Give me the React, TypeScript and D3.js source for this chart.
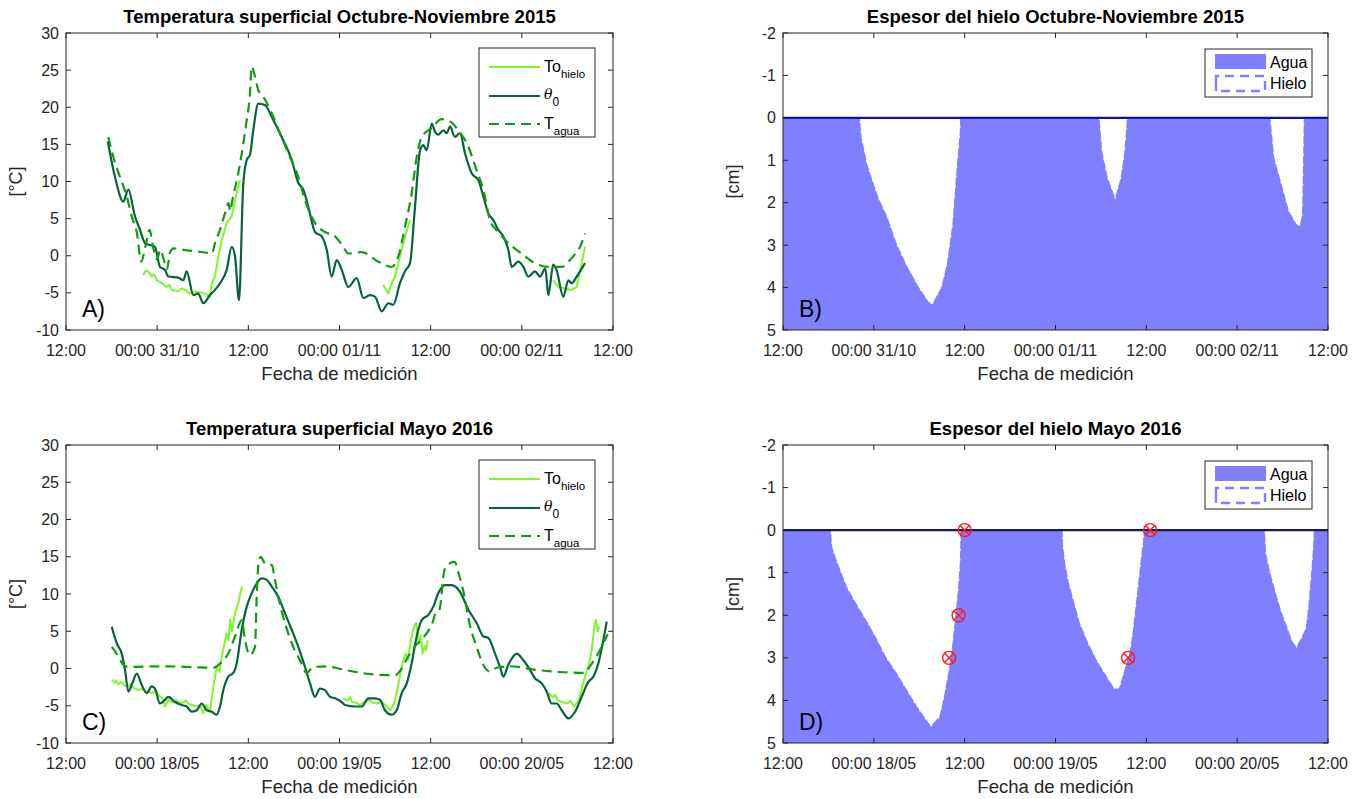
import React from 'react';
import * as d3 from 'd3';

type Pt = [number, number];

// Hours since 12:00 of the first day; every panel spans three days.
const hourDomain: Pt = [0, 72];
const tickHours = [0, 12, 24, 36, 48, 60, 72];
const octTickLabels = ['12:00', '00:00 31/10', '12:00', '00:00 01/11', '12:00', '00:00 02/11', '12:00'];
const mayTickLabels = ['12:00', '00:00 18/05', '12:00', '00:00 19/05', '12:00', '00:00 20/05', '12:00'];
const tempTicks = [-10, -5, 0, 5, 10, 15, 20, 25, 30];
const iceTicks = [-2, -1, 0, 1, 2, 3, 4, 5];

// --- Octubre-Noviembre 2015: surface temperature [°C] ---
const octTheta0: Pt[] = [
  [5.5, 15.4], [6.45, 10.6], [7.54, 7.3], [8.2, 8.9], [9.08, 5.3], [9.74, 3.5], [10.4, 1.7], [11.7, 1.2],
  [12.37, -1.5], [13.03, -1.9], [13.47, -2.8], [14.78, -2.95], [15.44, -3.3], [15.89, -2.1], [16.76, -5.3],
  [17.41, -5.1], [18.07, -6.4], [18.95, -5.3], [19.61, -4.6], [20.27, -3.7], [21.15, -1.9], [21.81, 1.2],
  [22.25, -0.1], [22.77, -6.0], [23.34, 9.8], [23.79, 12.9], [24.22, 13.6], [24.65, 16.9], [25.31, 20.5],
  [26.19, 20.3], [27.08, 18.7], [28.39, 16.0], [29.71, 12.9], [30.58, 9.8], [31.24, 8.9], [31.89, 6.6],
  [32.78, 3.2], [33.66, 2.6], [34.32, 0.8], [34.97, -2.8], [35.63, -0.6], [36.29, -1.9], [37.16, -4.2],
  [38.27, -3.0], [39.13, -5.7], [40.02, -5.3], [40.67, -5.5], [41.56, -7.5], [42.42, -6.4], [43.08, -6.6],
  [43.96, -3.7], [44.62, -2.1], [45.28, -1.0], [45.94, 6.6], [46.6, 14.2], [47.03, 14.9], [47.48, 14.2],
  [48.14, 17.8], [48.57, 16.7], [49.0, 16.3], [49.66, 16.9], [50.11, 16.5], [50.55, 17.4], [51.2, 16.0],
  [51.86, 16.5], [52.52, 13.8], [53.4, 11.1], [54.27, 10.2], [54.93, 8.0], [55.59, 5.7], [56.25, 4.8],
  [56.9, 3.5], [57.56, 2.6], [58.22, 0.8], [58.67, -1.5], [59.54, -0.8], [60.2, -1.5], [60.85, -2.8],
  [61.73, -2.1], [62.39, -2.8], [63.1, -1.7], [63.48, -5.3], [64.14, -1.2], [64.59, -2.0], [65.46, -5.5],
  [66.12, -3.3], [66.56, -3.7], [67.22, -2.8], [68.32, -1.0],
];
const octTagua: Pt[] = [
  [5.57, 16.0], [6.23, 13.3], [7.11, 10.6], [7.99, 8.0], [8.65, 5.3], [9.31, 3.2], [9.9, -0.8], [10.5, 1.5],
  [11.0, 3.5], [11.5, 1.0], [12.0, -0.5], [12.4, 0.8], [13.0, -1.0], [13.3, -1.8], [13.7, 0.5], [14.2, 1.0],
  [15.5, 0.8], [17.0, 0.6], [18.5, 0.4], [19.2, 0.3], [19.61, 1.7], [20.27, 3.5], [20.93, 5.7], [21.4, 7.1],
  [21.6, 6.0], [21.9, 7.5], [22.84, 12.0], [23.28, 14.7], [23.72, 17.8], [24.22, 21.9], [24.44, 25.5],
  [24.88, 24.1], [25.31, 22.3], [25.97, 21.4], [27.08, 19.2], [28.17, 16.5], [29.26, 13.8], [30.58, 10.6],
  [31.46, 7.5], [32.78, 4.4], [34.09, 3.2], [35.41, 2.6], [36.5, 1.2], [37.16, 0.3], [38.92, 0.5],
  [41.11, -0.8], [42.87, -1.5], [43.74, -0.1], [44.62, 3.9], [45.5, 8.4], [46.16, 13.3], [46.82, 16.0],
  [48.14, 17.2], [49.45, 18.4], [50.55, 18.1], [51.64, 16.9], [52.96, 14.7], [54.05, 11.5], [54.93, 8.9],
  [55.81, 4.8], [56.9, 3.2], [58.22, 1.7], [59.98, 0.3], [61.73, -1.0], [63.48, -1.5], [65.24, -1.5],
  [66.56, -0.3], [67.66, 1.2], [68.32, 3.0],
];
const octToHielo: Pt[][] = [
  [[10.17, -2.6], [10.5, -2.0], [10.83, -2.1], [11.28, -2.8], [11.6, -2.5], [11.94, -3.3], [12.6, -3.7],
   [13.25, -4.2], [13.6, -3.9], [13.91, -4.6], [14.78, -4.8], [15.2, -4.4], [15.66, -4.6], [16.3, -5.1],
   [16.98, -4.8], [17.6, -4.9], [18.3, -5.1], [18.95, -5.5], [19.18, -3.7], [19.61, -2.8], [20.05, -0.1],
   [20.5, 2.1], [21.15, 4.4], [21.81, 5.3], [22.25, 7.5], [22.9, 10.2]],
  [[41.77, -3.9], [42.42, -5.1], [42.87, -3.7], [43.31, -2.8], [43.96, -0.1], [44.62, 2.6], [45.28, 4.8]],
  [[64.14, -3.3], [64.8, -4.2], [65.68, -4.4], [66.56, -4.6], [67.22, -4.2], [67.88, -1.0], [68.32, 1.2]],
];

// --- Mayo 2016: surface temperature [°C] ---
const mayTheta0: Pt[] = [
  [6.02, 5.6], [6.67, 3.4], [7.33, 2.0], [7.77, -0.2], [8.2, -3.1], [8.73, -2.0], [9.31, -0.7], [9.96, -2.2],
  [10.62, -3.3], [11.28, -2.4], [11.72, -2.7], [12.37, -4.7], [13.03, -4.2], [13.47, -3.8], [14.35, -4.5],
  [15.23, -4.9], [15.89, -5.1], [16.55, -5.8], [17.2, -5.6], [17.86, -4.7], [18.52, -5.6], [19.18, -5.8],
  [19.84, -6.2], [20.27, -5.1], [20.71, -2.9], [21.36, -1.1], [22.02, -0.6], [22.47, 0.7], [23.13, 5.2],
  [23.79, 8.3], [24.44, 10.1], [25.1, 11.4], [25.76, 12.1], [26.42, 11.9], [27.08, 11.0], [27.95, 9.6],
  [28.83, 7.4], [29.71, 5.2], [30.58, 2.9], [31.46, 0.2], [32.12, -2.0], [32.78, -3.8], [33.43, -2.7],
  [34.09, -2.9], [34.75, -3.8], [35.41, -4.0], [36.29, -4.5], [36.72, -4.9], [38.04, -5.1], [38.92, -5.1],
  [39.79, -4.0], [40.67, -4.0], [41.33, -4.2], [41.99, -5.6], [42.87, -6.2], [43.53, -5.6], [44.19, -3.3],
  [44.85, -2.0], [45.5, 0.7], [46.16, 4.3], [46.82, 6.5], [47.69, 7.2], [48.35, 8.3], [49.0, 10.1],
  [49.89, 11.2], [50.77, 11.2], [51.86, 10.3], [52.96, 7.9], [54.06, 6.1], [54.93, 4.3], [55.59, 4.1],
  [56.47, 2.0], [57.13, 0.2], [57.56, -1.1], [58.22, 0.5], [59.33, 2.0], [60.2, 1.1], [60.85, 0.2],
  [61.73, -1.3], [62.62, -2.0], [63.27, -3.1], [63.93, -4.7], [64.59, -4.7], [65.25, -5.6], [66.12, -6.7],
  [67.0, -5.8], [67.88, -3.8], [68.75, -1.8], [69.41, -1.1], [70.07, 0.7], [71.17, 6.3],
];
const mayTagua: Pt[] = [
  [6.02, 2.9], [6.67, 2.0], [7.54, 0.5], [8.2, 0.2], [12.6, 0.3], [16.55, 0.2], [19.4, 0.1], [20.5, 0.9],
  [21.36, 2.0], [22.25, 4.3], [23.13, 6.5], [23.56, 3.8], [24.22, 1.8], [24.88, 2.9], [25.1, 9.6],
  [25.31, 13.7], [25.63, 15.0], [26.19, 14.1], [27.08, 13.9], [27.51, 11.9], [27.95, 9.6], [28.83, 6.1],
  [29.71, 3.4], [30.8, 1.1], [31.68, -0.6], [32.55, 0.2], [34.53, 0.3], [35.41, 0.1], [38.92, -0.6],
  [42.42, -0.9], [43.3, -0.9], [44.19, 0.0], [44.93, 1.4], [46.04, 3.1], [46.73, 3.8], [47.39, 4.6],
  [48.26, 6.2], [48.7, 7.6], [49.15, 7.9], [49.81, 13.2], [50.48, 14.1], [51.14, 14.3], [51.81, 12.3],
  [52.47, 9.6], [53.14, 5.9], [54.02, 3.0], [54.92, 0.5], [55.8, -0.4], [56.68, 0.1], [58.45, 0.3],
  [62.0, -0.2], [65.55, -0.5], [68.19, -0.6], [69.1, 0.5], [69.98, 1.9], [70.87, 3.7], [71.3, 4.6],
];
const mayToHielo: Pt[][] = [
  [[6.02, -1.5], [6.4, -1.9], [6.6, -1.6], [6.88, -2.1], [7.3, -1.8], [7.7, -2.3], [8.2, -2.4], [8.5, -2.1],
   [8.9, -2.6], [9.52, -2.9], [10.1, -2.7], [10.5, -3.2], [10.83, -3.1], [11.5, -3.3], [11.8, -2.9],
   [12.15, -3.6], [12.77, -4.0], [13.03, -5.1], [13.47, -4.2], [14.1, -4.6], [14.5, -4.2], [14.78, -4.5],
   [15.4, -4.6], [15.8, -4.3], [16.1, -4.7], [16.6, -4.9], [17.2, -5.1], [17.7, -5.0], [18.07, -6.0],
   [18.43, -4.9], [18.95, -5.8], [19.4, -2.4], [19.84, 0.2], [20.2, -0.5], [20.5, 1.6], [21.15, 4.7],
   [21.4, 3.8], [21.59, 6.5], [21.85, 5.0], [22.25, 7.4], [22.68, 8.8], [23.13, 11.0]],
  [[36.51, -4.0], [37.1, -4.3], [37.4, -3.8], [37.62, -4.5], [38.2, -4.6], [38.7, -4.9], [39.3, -4.5],
   [39.84, -4.2], [40.4, -4.6], [40.94, -4.7], [41.5, -4.5], [42.06, -4.9], [42.71, -5.6], [43.17, -4.7],
   [43.61, -2.9], [44.28, 0.7], [44.71, 2.0], [45.0, 1.2], [45.39, 3.8], [45.81, 5.6], [46.07, 6.1],
   [46.3, 4.2], [46.47, 3.4], [46.7, 4.4], [46.93, 2.0], [47.2, 3.0], [47.39, 2.5], [47.6, 3.8]],
  [[63.55, -3.3], [64.1, -3.9], [64.4, -3.5], [64.66, -4.2], [65.3, -4.5], [65.99, -4.7], [66.4, -4.3],
   [66.87, -5.1], [67.53, -4.2], [68.19, -1.5], [68.87, 0.7], [69.2, 2.5], [69.54, 5.6], [69.76, 6.5],
   [70.0, 5.0], [70.2, 5.6]],
];

// --- Ice thickness [cm] ---
const octIce: Pt[] = [
  [0, 0], [10.16, 0], [10.4, 0.47], [11.14, 1.1], [12.6, 1.88], [13.82, 2.35], [15.05, 2.98], [16.5, 3.53],
  [17.98, 4.0], [19.19, 4.32], [19.68, 4.4], [20.9, 4.0], [21.64, 3.45], [22.38, 2.5], [22.87, 1.33],
  [23.36, 0.31], [23.4, 0], [41.82, 0], [42.17, 0.79], [42.9, 1.41], [43.88, 1.88], [44.61, 1.41],
  [45.1, 0.79], [45.44, 0], [64.4, 0], [64.9, 0.94], [65.88, 1.57], [66.86, 2.2], [67.83, 2.5],
  [68.23, 2.55], [68.56, 2.3], [68.71, 0.94], [68.8, 0], [72, 0],
];
const mayIce: Pt[] = [
  [0, 0], [6.34, 0], [6.49, 0.39], [7.23, 0.78], [8.44, 1.33], [9.67, 1.72], [11.14, 2.15], [12.35, 2.54],
  [13.58, 2.97], [15.05, 3.36], [16.51, 3.79], [17.73, 4.15], [18.96, 4.46], [19.54, 4.6], [20.66, 4.38],
  [21.26, 3.91], [21.89, 3.29], [22.38, 2.66], [22.76, 2.03], [23.1, 1.41], [23.36, 0.78], [23.45, 0],
  [36.94, 0], [37.0, 0.35], [37.28, 0.78], [37.77, 1.25], [38.51, 1.72], [39.23, 2.19], [40.36, 2.66],
  [41.44, 3.05], [42.91, 3.48], [43.78, 3.72], [44.37, 3.72], [45.1, 3.29], [45.84, 2.82], [46.22, 2.35],
  [46.82, 1.41], [47.3, 0.63], [47.54, 0.31], [47.64, 0], [63.67, 0], [63.82, 0.55], [64.4, 1.02],
  [65.14, 1.49], [65.87, 1.92], [66.6, 2.27], [67.33, 2.62], [67.82, 2.74], [68.31, 2.58], [69.05, 2.31],
  [69.39, 1.8], [69.77, 1.02], [70.03, 0.39], [70.12, 0], [72, 0],
];
// Manual thickness readings, May 2016
const mayObsHour = [21.95, 23.2, 24.0, 45.6, 48.5];
const mayObsThick = [3, 2, 0, 3, 0];

const AXIS = '#262626';
const FONT = '"Liberation Sans", Arial, Helvetica, sans-serif';
const C_HIELO = '#7ff52c';
const C_THETA = '#07633a';
const C_AGUA_T = '#129a16';
const C_WATER = '#8080ff';

interface Box { x0: number; x1: number; y0: number; y1: number; }

function Frame({ b, x, y, yTicks, xLabels }: {
  b: Box; x: d3.ScaleLinear<number, number>; y: d3.ScaleLinear<number, number>;
  yTicks: number[]; xLabels: string[];
}) {
  const tl = 5;
  return (
    <g>
      <rect x={b.x0} y={b.y0} width={b.x1 - b.x0} height={b.y1 - b.y0} fill="none" stroke={AXIS} strokeWidth={1} />
      {tickHours.map((h, i) => (
        <g key={'x' + i}>
          <line x1={x(h)} x2={x(h)} y1={b.y1} y2={b.y1 - tl} stroke={AXIS} />
          <line x1={x(h)} x2={x(h)} y1={b.y0} y2={b.y0 + tl} stroke={AXIS} />
          <text x={x(h)} y={b.y1 + 26} textAnchor="middle" fontSize={16} fill={AXIS} fontFamily={FONT}>{xLabels[i]}</text>
        </g>
      ))}
      {yTicks.map((v, i) => (
        <g key={'y' + i}>
          <line x1={b.x0} x2={b.x0 + tl} y1={y(v)} y2={y(v)} stroke={AXIS} />
          <line x1={b.x1} x2={b.x1 - tl} y1={y(v)} y2={y(v)} stroke={AXIS} />
          <text x={b.x0 - 7} y={y(v)} dy="0.35em" textAnchor="end" fontSize={16} fill={AXIS} fontFamily={FONT}>{String(v)}</text>
        </g>
      ))}
    </g>
  );
}

function Labels({ b, title, yLabel, tag }: { b: Box; title: string; yLabel: string; tag: string }) {
  const cx = (b.x0 + b.x1) / 2;
  const cy = (b.y0 + b.y1) / 2;
  return (
    <g fontFamily={FONT}>
      <text x={cx} y={b.y0 - 10} textAnchor="middle" fontSize={18.5} fontWeight="bold" fill="#000">{title}</text>
      <text x={cx} y={b.y1 + 50} textAnchor="middle" fontSize={18.5} fill={AXIS}>Fecha de medición</text>
      <text transform={`translate(${b.x0 - 44},${cy}) rotate(-90)`} textAnchor="middle" fontSize={18} fill={AXIS}>{yLabel}</text>
      <text x={b.x0 + 16} y={b.y1 - 13} fontSize={23} fill="#000">{tag}</text>
    </g>
  );
}

function TempPanel({ b, title, tag, xLabels, theta0, tagua, tohielo }: {
  b: Box; title: string; tag: string; xLabels: string[]; theta0: Pt[]; tagua: Pt[]; tohielo: Pt[][];
}) {
  const x = d3.scaleLinear().domain(hourDomain).range([b.x0, b.x1]);
  const y = d3.scaleLinear().domain([-10, 30]).range([b.y1, b.y0]);
  const smooth = d3.line<Pt>().x(d => x(d[0])).y(d => y(d[1])).curve(d3.curveMonotoneX);
  const raw = d3.line<Pt>().x(d => x(d[0])).y(d => y(d[1]));
  const lx = b.x1 - 134, ly = b.y0 + 15;
  const rows = [ly + 19, ly + 48, ly + 76];
  return (
    <g>
      <Frame b={b} x={x} y={y} yTicks={tempTicks} xLabels={xLabels} />
      {tohielo.map((seg, i) => (
        <path key={i} d={raw(seg) || ''} fill="none" stroke={C_HIELO} strokeWidth={2} strokeLinejoin="round" />
      ))}
      <path d={smooth(theta0) || ''} fill="none" stroke={C_THETA} strokeWidth={2.2} strokeLinejoin="round" />
      <path d={smooth(tagua) || ''} fill="none" stroke={C_AGUA_T} strokeWidth={2.2} strokeDasharray="10,6" />
      <Labels b={b} title={title} yLabel="[°C]" tag={tag} />
      <g fontFamily={FONT}>
        <rect x={lx} y={ly} width={116} height={89} fill="#fff" stroke={AXIS} strokeWidth={1} />
        <line x1={lx + 10} x2={lx + 61} y1={rows[0]} y2={rows[0]} stroke={C_HIELO} strokeWidth={2} />
        <line x1={lx + 10} x2={lx + 61} y1={rows[1]} y2={rows[1]} stroke={C_THETA} strokeWidth={2.2} />
        <line x1={lx + 10} x2={lx + 61} y1={rows[2]} y2={rows[2]} stroke={C_AGUA_T} strokeWidth={2.2} strokeDasharray="10,6" />
        <text x={lx + 65} y={rows[0] + 5} fontSize={16} fill="#000">To<tspan fontSize={11.5} dy={6}>hielo</tspan></text>
        <text x={lx + 65} y={rows[1] + 3} fontSize={16} fill="#000"><tspan fontStyle="italic" fontFamily='"DejaVu Serif", serif' fontSize={14}>θ</tspan><tspan fontSize={12} dy={7}>0</tspan></text>
        <text x={lx + 65} y={rows[2] + 5} fontSize={16} fill="#000">T<tspan fontSize={11.5} dy={6}>agua</tspan></text>
      </g>
    </g>
  );
}

function IcePanel({ b, title, tag, xLabels, ice, zeroColor, obs }: {
  b: Box; title: string; tag: string; xLabels: string[]; ice: Pt[]; zeroColor: string;
  obs?: { h: number[]; v: number[] };
}) {
  const x = d3.scaleLinear().domain(hourDomain).range([b.x0, b.x1]);
  const y = d3.scaleLinear().domain([-2, 5]).range([b.y0, b.y1]);
  const water = d3.area<Pt>().x(d => x(d[0])).y0(() => y(5)).y1(() => y(0));
  const iceArea = d3.area<Pt>().x(d => x(d[0])).y0(() => y(0)).y1(d => y(d[1]));
  const lx = b.x1 - 123, ly = b.y0 + 16;
  return (
    <g>
      <path d={water(ice) || ''} fill={C_WATER} />
      <path d={iceArea(ice) || ''} fill="#fff" stroke="#fff" strokeWidth={1.2} strokeDasharray="2,8" />
      <line x1={x(0)} x2={x(72)} y1={y(0)} y2={y(0)} stroke={zeroColor} strokeWidth={2.2} />
      {obs && obs.h.map((h, i) => {
        const cx = x(h), cy = y(obs.v[i]), r = 6.5, k = 4.6;
        return (
          <g key={i} stroke="#ff1a1a" strokeWidth={1.4} fill="none">
            <circle cx={cx} cy={cy} r={r} />
            <line x1={cx - k} y1={cy - k} x2={cx + k} y2={cy + k} />
            <line x1={cx - k} y1={cy + k} x2={cx + k} y2={cy - k} />
          </g>
        );
      })}
      <Frame b={b} x={x} y={y} yTicks={iceTicks} xLabels={xLabels} />
      <Labels b={b} title={title} yLabel="[cm]" tag={tag} />
      <g fontFamily={FONT}>
        <rect x={lx} y={ly} width={107} height={48} fill="#fff" stroke={AXIS} strokeWidth={1} />
        <rect x={lx + 10} y={ly + 5} width={51} height={15} fill={C_WATER} />
        <path d={`M${lx + 11},${ly + 42}v-15h49v15h-49`} fill="#fff" stroke={C_WATER} strokeWidth={2.4}
          strokeDasharray="18,6,9,6,9,6,9,6,9,6,9,6,9,6,9,6" />
        <text x={lx + 65} y={ly + 19} fontSize={16} fill="#000">Agua</text>
        <text x={lx + 65} y={ly + 40} fontSize={16} fill="#000">Hielo</text>
      </g>
    </g>
  );
}

export default function App() {
  const A: Box = { x0: 66, x1: 613, y0: 33, y1: 330 };
  const B: Box = { x0: 783, x1: 1328, y0: 33, y1: 330 };
  const C: Box = { x0: 66, x1: 613, y0: 445, y1: 743 };
  const D: Box = { x0: 783, x1: 1328, y0: 445, y1: 743 };
  return (
    <svg width={1367} height={799} style={{ position: 'absolute', left: 0, top: 0, background: '#fff' }}>
      <rect width={1367} height={799} fill="#fff" />
      <TempPanel b={A} title="Temperatura superficial Octubre-Noviembre 2015" tag="A)" xLabels={octTickLabels}
        theta0={octTheta0} tagua={octTagua} tohielo={octToHielo} />
      <IcePanel b={B} title="Espesor del hielo Octubre-Noviembre 2015" tag="B)" xLabels={octTickLabels}
        ice={octIce} zeroColor="#1010b0" />
      <TempPanel b={C} title="Temperatura superficial Mayo 2016" tag="C)" xLabels={mayTickLabels}
        theta0={mayTheta0} tagua={mayTagua} tohielo={mayToHielo} />
      <IcePanel b={D} title="Espesor del hielo Mayo 2016" tag="D)" xLabels={mayTickLabels}
        ice={mayIce} zeroColor="#1a1a50" obs={{ h: mayObsHour, v: mayObsThick }} />
    </svg>
  );
}
